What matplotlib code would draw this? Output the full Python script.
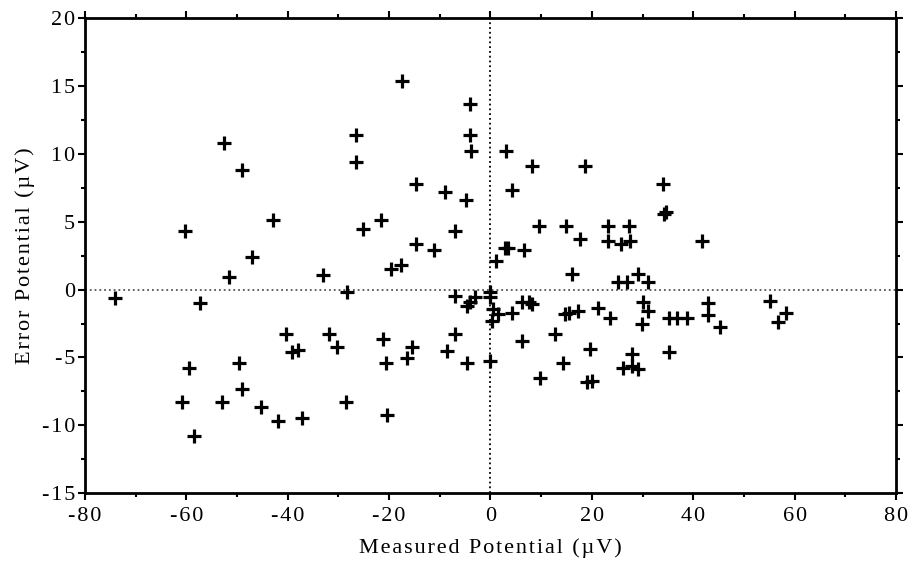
import matplotlib
matplotlib.use("Agg")
import matplotlib.pyplot as plt
from matplotlib.ticker import MultipleLocator, FuncFormatter

# values (measured vs error potential, uV)
x_upper = [-60.3, -52.5, -49.1, -43.0, -47.0, -51.5, -33.0, -28.4, -26.5, -26.5,
           -25.1, -21.7, -17.4, -14.7, -9.0, -4.8, -7.0, -14.6, -11.1, -19.6,
           -17.6, -4.0, -4.0, -3.85, 1.0, 3.06, 8.25, 18.6, 4.3, 34.1,
           34.6, 34.3, 9.6, 14.8, 23.2, 27.4, 17.65, 23.2, 25.7, 27.5,
           41.65, 2.8, 3.4, 6.67, 16.0, 25.2, 26.9, 29.1, 31.1]
y_upper = [4.3, 10.8, 8.85, 5.1, 2.4, 0.9, 1.07, -0.16, 11.4, 9.44,
           4.47, 5.1, 15.4, 7.77, 7.2, 6.63, 4.3, 3.36, 2.94, 1.5,
           1.85, 13.7, 11.4, 10.25, 2.1, 10.25, 9.14, 9.14, 7.37, 7.79,
           5.7, 5.55, 4.7, 4.7, 4.7, 4.7, 3.73, 3.56, 3.4, 3.56,
           3.56, 3.04, 3.04, 2.94, 1.12, 0.53, 0.53, 1.14, 0.53]

x_lower = [-74.1, -57.3, -59.5, -60.9, -58.5, -52.9, -49.6, -48.95, -45.3, -41.85,
           -37.2, -40.3, -39.2, -37.9, -31.85, -30.3, -28.6, -21.3, -20.7, -20.5,
           -16.5, -15.4, -8.6, -7.0, -4.7, -7.0, -4.0, -3.05, -4.7, -0.1,
           -0.1, 0.55, 1.5, 0.2, -0.1, 4.2, 6.2, 7.5, 8.1, 6.2,
           9.8, 12.7, 14.4, 14.7, 15.5, 17.3, 19.6, 19.0, 19.95, 21.3,
           23.6, 27.85, 26.2, 27.85, 29.15, 30.1, 31.1, 29.8, 35.2, 35.2,
           36.7, 38.7, 43.0, 43.0, 45.3, 55.1, 56.8, 58.4]
y_lower = [-0.65, -1.0, -5.8, -8.3, -10.8, -8.3, -5.4, -7.35, -8.65, -9.7,
           -9.45, -3.3, -4.6, -4.45, -3.3, -4.27, -8.3, -3.66, -5.43, -9.25,
           -5.06, -4.27, -4.5, -3.29, -5.38, -0.46, -0.95, -0.58, -1.2, -0.16,
           -0.58, -1.44, -1.8, -2.3, -5.27, -1.7, -0.95, -0.95, -1.07, -3.8,
           -6.5, -3.29, -5.38, -1.8, -1.7, -1.56, -4.4, -6.85, -6.74, -1.39,
           -2.13, -4.76, -5.75, -5.6, -5.87, -0.95, -1.56, -2.55, -4.59, -2.13,
           -2.13, -2.13, -1.0, -1.88, -2.74, -0.82, -2.37, -1.76]

measured = x_upper + x_lower
error = y_upper + y_lower

x_title = 'Measured Potential (\u00b5V)'
y_title = 'Error Potential (\u00b5V)'

plt.rcParams['font.family'] = ['Liberation Serif', 'DejaVu Serif']
plt.rcParams['axes.unicode_minus'] = False


def track(s):
    # old typewriter-like letter spacing of the scanned figure
    return '\u200a'.join(s)


def spaced(v, pos):
    return track('%d' % v)


fig = plt.figure(figsize=(9.18, 5.69), dpi=100)
ax = fig.add_axes([0.0926, 0.1336, 0.8834, 0.834])

ax.axhline(0, color='#555555', lw=1.3, ls=':', zorder=1)
ax.axvline(0, color='black', lw=1.3, ls=':', zorder=1)
ax.plot(measured, error, ls='none', marker='+', color='black',
        markersize=10, markeredgewidth=2.3, zorder=3)

ax.set_xlim(-80, 80)
ax.set_ylim(-15, 20)
ax.xaxis.set_major_locator(MultipleLocator(20))
ax.xaxis.set_minor_locator(MultipleLocator(10))
ax.yaxis.set_major_locator(MultipleLocator(5))
ax.yaxis.set_minor_locator(MultipleLocator(2.5))
ax.xaxis.set_major_formatter(FuncFormatter(spaced))
ax.yaxis.set_major_formatter(FuncFormatter(spaced))
ax.tick_params(which='both', direction='out', top=True, right=True,
               width=1.5, labelsize=16)
ax.tick_params(axis='x', pad=5)
ax.tick_params(axis='y', pad=2)
ax.tick_params(which='major', length=5)
ax.tick_params(which='minor', length=3)
for s in ax.spines.values():
    s.set_linewidth(2)

ax.set_xlabel(track(x_title), fontsize=16, labelpad=9)
ax.set_ylabel(track(y_title), fontsize=16, labelpad=5)

fig.savefig('out.png', dpi=100)
